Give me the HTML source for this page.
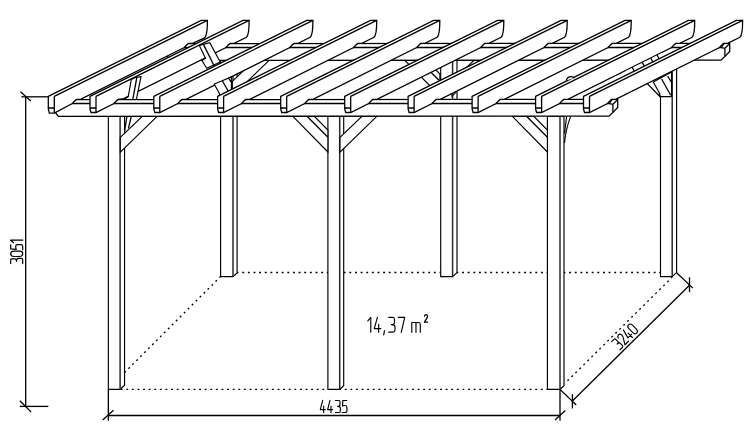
<!DOCTYPE html>
<html><head><meta charset="utf-8"><style>
html,body{margin:0;padding:0;background:#fff;}
svg{display:block;}
text{font-family:"Liberation Sans",sans-serif;fill:#111;}
</style></head><body>
<svg width="750" height="439" viewBox="0 0 750 439">
<g stroke="#000" stroke-linecap="butt" stroke-linejoin="miter" fill="none">
<path d="M108.3,388.8L220.5,276.6" stroke-width="1.35" stroke-dasharray="1.9 3.700" stroke-dashoffset="5.13"/>
<path d="M118,389.4L547.4,389.4" stroke-width="1.35" stroke-dasharray="1.9 3.703" stroke-dashoffset="2.96"/>
<path d="M232,272.45L660.5,272.45" stroke-width="1.35" stroke-dasharray="1.9 3.736" stroke-dashoffset="1.02"/>
<path d="M564.6,383.7L672.2,277.2" stroke-width="1.35" stroke-dasharray="1.9 3.720" stroke-dashoffset="1.57"/>
<path d="M220.6,60.3L237.1,60.3L237.1,272.9L233,276.6L220.6,276.6Z" fill="#fff" stroke-width="1.15"/>
<path d="M233,60.3V276.6" stroke="#2a2a2a" stroke-width="1.5"/>
<path d="M440.7,60.3L457,60.3L457,272.6L452.6,276.6L440.7,276.6Z" fill="#fff" stroke-width="1.15"/>
<path d="M452.6,60.3V276.6" stroke="#2a2a2a" stroke-width="1.5"/>
<path d="M660.5,60.3L676.6,60.3L676.6,272.6L672.2,276.6L660.5,276.6Z" fill="#fff" stroke-width="1.15"/>
<path d="M672.2,60.3V276.6" stroke="#2a2a2a" stroke-width="1.5"/>
<path d="M232.3,81.3L254.3,60.3L269.1,60.3L232.3,96.1Z" fill="#fff" stroke-width="1.15"/>
<path d="M439.9,96L404.9,60.3L426.3,60.3L439.9,74Z" fill="#fff" stroke-width="1.15"/>
<path d="M439.9,81.3L419,60.3" stroke-width="1.3" />
<path d="M452,81.3L474,60.3L488.8,60.3L452,96.1Z" fill="#fff" stroke-width="1.15"/>
<path d="M659.4,96L624.4,60.3L645.8,60.3L659.4,74Z" fill="#fff" stroke-width="1.15"/>
<path d="M659.4,81.3L638.5,60.3" stroke-width="1.3" />
<path d="M162,43.7L724.2,43.3L729.7,43.5L729.7,51.4L721.1,60.2L170.3,60.3Q167.5,58 167,54L162,47Z" fill="#fff" stroke-width="1.3"/>
<path d="M162,47.5L721.1,47.5L724.9,48.3L729.7,43.6M724.9,48.3V56.2M721.1,47.5L724.2,43.3" fill="none" stroke-width="1.3"/>
<path d="M108.35,116.3L124.55,116.3L124.55,385.25L120.1,389.3L108.35,389.3Z" fill="#fff" stroke-width="1.15"/>
<path d="M120.1,116.3V389.3" stroke="#2a2a2a" stroke-width="1.5"/>
<path d="M327.9,116.3L343.7,116.3L343.7,385.7L339.7,389.3L327.9,389.3Z" fill="#fff" stroke-width="1.15"/>
<path d="M339.7,116.3V389.3" stroke="#2a2a2a" stroke-width="1.5"/>
<path d="M547.4,116.3L564,116.3L564,385.7L560,389.3L547.4,389.3Z" fill="#fff" stroke-width="1.15"/>
<path d="M560,116.3V389.3" stroke="#2a2a2a" stroke-width="1.5"/>
<path d="M120.3,137.3L142.3,116.3L157.1,116.3L120.3,152.1Z" fill="#fff" stroke-width="1.15"/>
<path d="M327.9,152L292.9,116.3L314.3,116.3L327.9,130Z" fill="#fff" stroke-width="1.15"/>
<path d="M327.9,137.3L307,116.3" stroke-width="1.3" />
<path d="M340,137.3L362,116.3L376.8,116.3L340,152.1Z" fill="#fff" stroke-width="1.15"/>
<path d="M547.4,152L512.4,116.3L533.8,116.3L547.4,130Z" fill="#fff" stroke-width="1.15"/>
<path d="M547.4,137.3L526.5,116.3" stroke-width="1.3" />
<path d="M124.6,131.4L126.8,116.9M128.4,128.4L131.2,116.9" fill="none" stroke-width="1.3"/>
<path d="M564.5,143Q566,128 570.6,116.6M564.5,133.4L566.6,116.6" fill="none" stroke-width="1.15"/>
<path d="M50,99.7L612.2,99.3L617.7,99.5L617.7,107.4L609.1,116.2L58.3,116.3Q55.5,114 55,110L50,103Z" fill="#fff" stroke-width="1.3"/>
<path d="M50,103.5L609.1,103.5L612.9,104.3L617.7,99.6M612.9,104.3V112.2M609.1,103.5L612.2,99.3" fill="none" stroke-width="1.3"/>
<path d="M48.3,96.3L201.2,20.4L207.4,20.4C207.5,30.3 207,35.1 204.7,37.9L192.5,43.4L188.5,43.4Q186.8,44.5 184.3,47.5L80.5,99.4L76.5,99.4Q74.8,100.5 72.3,103.5L54.3,113.1L49.3,113.1L48.3,108.9Z" fill="#fff" stroke-width="1.3"/>
<path d="M54.3,96.3L207.4,20.4M54.3,96.3L54.3,113.1M48.3,108L54.3,108" fill="none" stroke-width="1.3"/>
<path d="M90,96.3L242.9,20.4L249.1,20.4C249.2,30.3 248.7,35.1 246.4,37.3L234.2,43.4L230.2,43.4Q228.5,44.5 226,47.5L122.2,99.4L118.2,99.4Q116.5,100.5 114,103.5L96,112.5L91,112.5L90,108.9Z" fill="#fff" stroke-width="1.3"/>
<path d="M96,96.3L249.1,20.4M96,96.3L96,112.5M90,108L96,108" fill="none" stroke-width="1.3"/>
<path d="M118,99.5L125.5,98.5L128.2,96.8L131.3,79.4L135.6,77.4L141,76.7L136.4,99.4Z" fill="#fff" stroke-width="1.15"/>
<path d="M132.8,99.4L136.9,77.2" stroke-width="1.3" />
<path d="M199.3,45.4L209.8,42.7L220.2,62L206.7,68.2L202,60.5L205.5,58.2Z" fill="#fff" stroke-width="1.15"/>
<path d="M203.6,44.6L214,65.5" stroke-width="1.3" />
<path d="M153.8,96.3L306.7,20.4L312.9,20.4C313,30.3 312.5,35.1 310.2,37.3L298,43.4L294,43.4Q292.3,44.5 289.8,47.5L186,99.4L182,99.4Q180.3,100.5 177.8,103.5L159.8,112.5L154.8,112.5L153.8,108.9Z" fill="#fff" stroke-width="1.3"/>
<path d="M159.8,96.3L312.9,20.4M159.8,96.3L159.8,112.5M153.8,108L159.8,108" fill="none" stroke-width="1.3"/>
<path d="M214.19,84L219.3,93.2L220.1,96.6L231.4,96.6L231.4,77Z" fill="#fff" stroke-width="1.15"/>
<path d="M222.49,81L230.5,95.3" stroke-width="1.3" />
<path d="M228.49,78L231,81.9" stroke-width="1.3" />
<path d="M217.6,96.3L370.5,20.4L376.7,20.4C376.8,30.3 376.3,35.1 374,37.3L361.8,43.4L357.8,43.4Q356.1,44.5 353.6,47.5L249.8,99.4L245.8,99.4Q244.1,100.5 241.6,103.5L223.6,112.5L218.6,112.5L217.6,108.9Z" fill="#fff" stroke-width="1.3"/>
<path d="M223.6,96.3L376.7,20.4M223.6,96.3L223.6,112.5M217.6,108L223.6,108" fill="none" stroke-width="1.3"/>
<path d="M280.7,96.3L433.6,20.4L439.8,20.4C439.9,30.3 439.4,35.1 437.1,37.3L424.9,43.4L420.9,43.4Q419.2,44.5 416.7,47.5L312.9,99.4L308.9,99.4Q307.2,100.5 304.7,103.5L286.7,112.5L281.7,112.5L280.7,108.9Z" fill="#fff" stroke-width="1.3"/>
<path d="M286.7,96.3L439.8,20.4M286.7,96.3L286.7,112.5M280.7,108L286.7,108" fill="none" stroke-width="1.3"/>
<path d="M344.7,96.3L497.6,20.4L503.8,20.4C503.9,30.3 503.4,35.1 501.1,37.3L488.9,43.4L484.9,43.4Q483.2,44.5 480.7,47.5L376.9,99.4L372.9,99.4Q371.2,100.5 368.7,103.5L350.7,112.5L345.7,112.5L344.7,108.9Z" fill="#fff" stroke-width="1.3"/>
<path d="M350.7,96.3L503.8,20.4M350.7,96.3L350.7,112.5M344.7,108L350.7,108" fill="none" stroke-width="1.3"/>
<path d="M408.1,96.3L561,20.4L567.2,20.4C567.3,30.3 566.8,35.1 564.5,37.3L552.3,43.4L548.3,43.4Q546.6,44.5 544.1,47.5L440.3,99.4L436.3,99.4Q434.6,100.5 432.1,103.5L414.1,112.5L409.1,112.5L408.1,108.9Z" fill="#fff" stroke-width="1.3"/>
<path d="M414.1,96.3L567.2,20.4M414.1,96.3L414.1,112.5M408.1,108L414.1,108" fill="none" stroke-width="1.3"/>
<path d="M472.1,96.3L625,20.4L631.2,20.4C631.3,30.3 630.8,35.1 628.5,37.3L616.3,43.4L612.3,43.4Q610.6,44.5 608.1,47.5L504.3,99.4L500.3,99.4Q498.6,100.5 496.1,103.5L478.1,112.5L473.1,112.5L472.1,108.9Z" fill="#fff" stroke-width="1.3"/>
<path d="M478.1,96.3L631.2,20.4M478.1,96.3L478.1,112.5M472.1,108L478.1,108" fill="none" stroke-width="1.3"/>
<path d="M535.6,96.3L688.5,20.4L694.7,20.4C694.8,30.3 694.3,35.1 692,37.3L679.8,43.4L675.8,43.4Q674.1,44.5 671.6,47.5L567.8,99.4L563.8,99.4Q562.1,100.5 559.6,103.5L541.6,112.5L536.6,112.5L535.6,108.9Z" fill="#fff" stroke-width="1.3"/>
<path d="M541.6,96.3L694.7,20.4M541.6,96.3L541.6,112.5M535.6,108L541.6,108" fill="none" stroke-width="1.3"/>
<path d="M566.2,80.6Q567.5,76.3 571.5,76.6L574.8,77.8" fill="#fff" stroke-width="1.3"/>
<path d="M626,71.05L662,53.05L662,57.35L626,75.35Z" fill="#fff" stroke="none"/>
<path d="M632.3,67.4L634.3,71.2" stroke-width="1.3" />
<path d="M642.3,62.4L644.3,66.2" stroke-width="1.3" />
<path d="M650.8,58.15L652.8,61.95" stroke-width="1.3" />
<path d="M657.1,55L659.1,58.8" stroke-width="1.3" />
<path d="M583.5,96.3L736.4,20.4L742.6,20.4C742.7,30.3 742.2,35.1 739.9,37.3L727.7,43.4L723.7,43.4Q722,44.5 719.5,47.5L615.7,99.4L611.7,99.4Q610,100.5 607.5,103.5L589.5,112.5L584.5,112.5L583.5,108.9Z" fill="#fff" stroke-width="1.3"/>
<path d="M589.5,96.3L742.6,20.4M589.5,96.3L589.5,112.5M583.5,108L589.5,108" fill="none" stroke-width="1.3"/>
<path d="M653.28,82L659.5,93.2L660.3,96.6L671.6,96.6L671.6,72Z" fill="#fff" stroke-width="1.15"/>
<path d="M661.58,79L670.7,95.3" stroke-width="1.3" />
<path d="M667.58,76L671.2,81.9" stroke-width="1.3" />
<path d="M25.7,96.8L25.7,406.6" stroke-width="1.3" />
<path d="M21.4,96.8L48.5,96.8" stroke-width="1.3" />
<path d="M20.5,91.7L30.8,101.1" stroke-width="1.3" />
<path d="M19.8,406.4L48.3,406.4" stroke-width="1.3" />
<path d="M19.9,400.8L31.2,412.1" stroke-width="1.3" />
<path d="M108.35,415.5L560,415.5" stroke-width="1.3" />
<path d="M108.35,389.3L108.35,420.8" stroke-width="1.3" />
<path d="M560,389.3L560,420.8" stroke-width="1.3" />
<path d="M102.7,420L113.5,410.2" stroke-width="1.3" />
<path d="M555,420L565.3,410.5" stroke-width="1.3" />
<path d="M559.8,389.1L576.2,405" stroke-width="1.3" />
<path d="M676.6,272.8L692.9,288.1" stroke-width="1.3" />
<path d="M572.4,401L689.5,285.3" stroke-width="1.3" />
<path d="M572.4,394.2L572.4,408.5" stroke-width="1.3" />
<path d="M689.5,277.3L689.5,292.1" stroke-width="1.3" />
<g transform="translate(320.3,400.4) scale(0.95,1)" stroke-width="1.2" stroke-linecap="round" stroke-linejoin="round" fill="none"><path transform="translate(0,0)" d="M2.5,0L0,9.2H5.3M3.55,5.8V12.2"/><path transform="translate(7.7,0)" d="M2.5,0L0,9.2H5.3M3.55,5.8V12.2"/><path transform="translate(16,0)" d="M0,0.1H3.4Q4.7,0.1 4.7,1.7V4.4Q4.7,5.9 2.2,5.9Q5.1,5.9 5.1,7.6V10.6Q5.1,12.1 3.5,12.1H0"/><path transform="translate(22.9,0)" d="M4.9,0.1H0.8L0.5,5.7Q1.4,5.1 3.4,5.1Q5.1,5.1 5.1,7V10.5Q5.1,12.1 3.4,12.1H0"/></g>
<g transform="translate(10.6,263.6) rotate(-90) scale(1.03,1.0)" stroke-width="1.2" stroke-linecap="round" stroke-linejoin="round" fill="none"><path transform="translate(0,0)" d="M0,0.1H3.4Q4.7,0.1 4.7,1.7V4.4Q4.7,5.9 2.2,5.9Q5.1,5.9 5.1,7.6V10.6Q5.1,12.1 3.5,12.1H0"/><path transform="translate(6.9,0)" d="M2.6,0.1Q5.2,0.1 5.2,3.2V9Q5.2,12.1 2.6,12.1Q0,12.1 0,9V3.2Q0,0.1 2.6,0.1Z"/><path transform="translate(13.4,0)" d="M4.9,0.1H0.8L0.5,5.7Q1.4,5.1 3.4,5.1Q5.1,5.1 5.1,7V10.5Q5.1,12.1 3.4,12.1H0"/><path transform="translate(20.1,0)" d="M0.2,3L2.6,0.1V12.2"/></g>
<g transform="translate(367.6,317.3) scale(1.2295)" stroke-width="0.935" stroke-linecap="round" stroke-linejoin="round" fill="none"><path d="M0.2,3L2.6,0.1V12.2"/></g>
<g transform="translate(374.3,317.3) scale(1.2295)" stroke-width="0.935" stroke-linecap="round" stroke-linejoin="round" fill="none"><path d="M2.5,0L0,9.2H5.3M3.55,5.8V12.2"/></g>
<g transform="translate(383.1,317.3) scale(1.2295)" stroke-width="0.935" stroke-linecap="round" stroke-linejoin="round" fill="none"><path d="M1.1,10.8L0.5,14.4"/></g>
<g transform="translate(388.7,317.3) scale(1.2295)" stroke-width="0.935" stroke-linecap="round" stroke-linejoin="round" fill="none"><path d="M0,0.1H3.4Q4.7,0.1 4.7,1.7V4.4Q4.7,5.9 2.2,5.9Q5.1,5.9 5.1,7.6V10.6Q5.1,12.1 3.5,12.1H0"/></g>
<g transform="translate(398.3,317.3) scale(1.2295)" stroke-width="0.935" stroke-linecap="round" stroke-linejoin="round" fill="none"><path d="M0,0.1H5.2L2.4,12.2"/></g>
<g transform="translate(411.8,317.3) scale(1.2295)" stroke-width="0.935" stroke-linecap="round" stroke-linejoin="round" fill="none"><path d="M0,4.2V12.2M0,4.2H5.4Q6.9,4.2 6.9,5.7V12.2M3.4,4.2V12.2"/></g>
<g transform="translate(424.4,314.6) scale(0.62)" stroke-width="2.016" stroke-linecap="round" stroke-linejoin="round" fill="none"><path d="M0.1,2.4Q0.4,0.1 2.6,0.1Q5,0.1 5,2.8Q5,4.4 3.6,6.4L0,12.1H5.3"/></g>
<g transform="translate(611.6,341.6) rotate(-45) scale(0.97)" stroke-width="1.15" stroke-linecap="round" stroke-linejoin="round" fill="none"><path transform="translate(0,0)" d="M0,0.1H3.4Q4.7,0.1 4.7,1.7V4.4Q4.7,5.9 2.2,5.9Q5.1,5.9 5.1,7.6V10.6Q5.1,12.1 3.5,12.1H0"/><path transform="translate(7.3,0)" d="M0.1,2.4Q0.4,0.1 2.6,0.1Q5,0.1 5,2.8Q5,4.4 3.6,6.4L0,12.1H5.3"/><path transform="translate(14.6,0)" d="M2.5,0L0,9.2H5.3M3.55,5.8V12.2"/><path transform="translate(22.0,0)" d="M2.6,0.1Q5.2,0.1 5.2,3.2V9Q5.2,12.1 2.6,12.1Q0,12.1 0,9V3.2Q0,0.1 2.6,0.1Z"/></g>
</g>

</svg>
</body></html>
